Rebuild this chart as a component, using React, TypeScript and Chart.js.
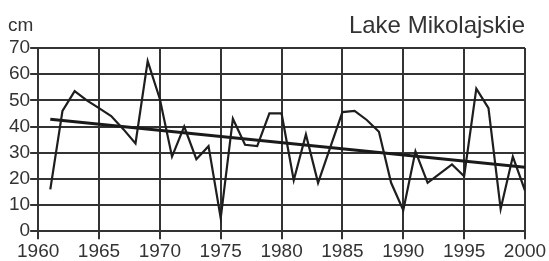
import React, { useEffect, useRef } from "react";
import { Chart, registerables } from "chart.js";

Chart.register(...registerables);

const years = [
  1961, 1962, 1963, 1964, 1965, 1966, 1967, 1968, 1969, 1970,
  1971, 1972, 1973, 1974, 1975, 1976, 1977, 1978, 1979, 1980,
  1981, 1982, 1983, 1984, 1985, 1986, 1987, 1988, 1989, 1990,
  1991, 1992, 1993, 1994, 1995, 1996, 1997, 1998, 1999, 2000,
];
const depths = [
  16, 46, 53.5, 50, 47, 44, 39, 33.5, 65, 50.5,
  28.5, 40, 27.5, 32.5, 5, 43, 33, 32.5, 45, 45,
  19.5, 37, 18.5, 32, 45.5, 46, 42.5, 38, 18.5, 8,
  30.5, 18.5, 22, 25.5, 21, 54.5, 47, 8.5, 28.5, 15.5,
];
const trendYears = [1961, 2000];
const trendValues = [42.8, 24.4];

const xRange = [1960, 2000];
const xStep = 5;
const yRange = [0, 70];
const yStep = 10;
const unitLabel = "cm";
const titleText = "Lake Mikolajskie";

const FONT = "Liberation Sans, Arial, sans-serif";
const GRID = "#333333";
const TEXT = "#333333";

export default function App() {
  const ref = useRef<HTMLCanvasElement | null>(null);

  useEffect(() => {
    if (!ref.current) return;

    const textPlugin = {
      id: "overlay",
      afterDraw(chart: any) {
        const { ctx, chartArea } = chart;
        ctx.save();
        ctx.fillStyle = TEXT;
        ctx.textBaseline = "alphabetic";
        ctx.font = `19px ${FONT}`;
        ctx.textAlign = "left";
        ctx.fillText(unitLabel, 8, 31);
        ctx.font = `24px ${FONT}`;
        ctx.textAlign = "right";
        ctx.fillText(titleText, chartArea.right, 33);
        ctx.restore();
      },
    };

    const chart = new Chart(ref.current, {
      type: "line",
      data: {
        datasets: [
          {
            data: years.map((y, i) => ({ x: y, y: depths[i] })),
            borderColor: "#1e1e1e",
            borderWidth: 2.2,
            pointRadius: 0,
            tension: 0,
            fill: false,
          },
          {
            data: trendYears.map((y, i) => ({ x: y, y: trendValues[i] })),
            borderColor: "#1a1a1a",
            borderWidth: 3,
            pointRadius: 0,
            tension: 0,
            fill: false,
          },
        ],
      },
      options: {
        responsive: false,
        animation: false,
        layout: { padding: { top: 48, right: 24, left: 9, bottom: -3 } },
        plugins: {
          legend: { display: false },
          tooltip: { enabled: false },
        },
        scales: {
          x: {
            type: "linear",
            min: xRange[0],
            max: xRange[1],
            ticks: {
              stepSize: xStep,
              color: TEXT,
              font: { family: FONT, size: 19 },
              padding: 1,
              maxRotation: 0,
              callback: (v: any) => String(v),
            },
            grid: { color: GRID, lineWidth: 2 },
            border: { color: GRID, width: 2 },
          },
          y: {
            type: "linear",
            min: yRange[0],
            max: yRange[1],
            ticks: {
              stepSize: yStep,
              color: TEXT,
              font: { family: FONT, size: 19 },
              padding: 0,
              callback: (v: any) => String(v),
            },
            grid: { color: GRID, lineWidth: 2 },
            border: { color: GRID, width: 2 },
          },
        },
      },
      plugins: [textPlugin],
    });
    return () => chart.destroy();
  }, []);

  return (
    <div style={{ position: "fixed", left: 0, top: 0, width: 549, height: 261, background: "#fff" }}>
      <canvas ref={ref} width={549} height={261} style={{ display: "block" }} />
    </div>
  );
}
